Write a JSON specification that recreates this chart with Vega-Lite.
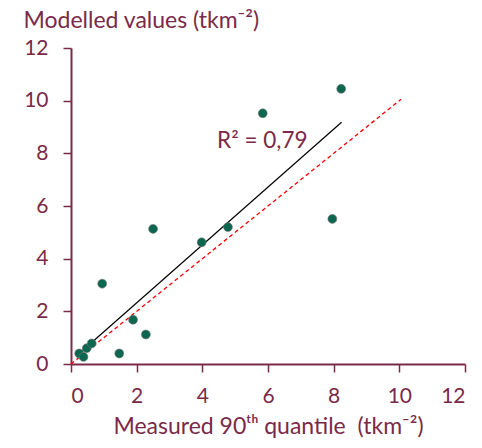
{
  "$schema": "https://vega.github.io/schema/vega-lite/v6.json",
  "width": 394,
  "height": 316,
  "autosize": {"type": "none"},
  "padding": {"left": 71, "top": 48, "right": 17, "bottom": 84},
  "background": "white",
  "config": {
    "view": {"stroke": null},
    "font": "Lato",
    "axis": {
      "grid": false,
      "domainColor": "#7A2A48",
      "domainWidth": 2,
      "tickColor": "#7A2A48",
      "tickSize": 8,
      "tickWidth": 1.5,
      "labelColor": "#7A2A48",
      "labelFont": "Lato",
      "labelFontSize": 21,
      "titleColor": "#7A2A48",
      "titleFont": "Lato",
      "titleFontSize": 23,
      "titleFontWeight": "normal"
    }
  },
  "datasets": {
    "points": [
      {"measured": 8.23, "modelled": 10.45},
      {"measured": 5.84, "modelled": 9.52},
      {"measured": 2.5, "modelled": 5.13},
      {"measured": 3.98, "modelled": 4.62},
      {"measured": 4.78, "modelled": 5.2},
      {"measured": 7.96, "modelled": 5.51},
      {"measured": 0.95, "modelled": 3.05},
      {"measured": 1.89, "modelled": 1.68},
      {"measured": 2.28, "modelled": 1.12},
      {"measured": 1.47, "modelled": 0.4},
      {"measured": 0.25, "modelled": 0.4},
      {"measured": 0.38, "modelled": 0.27},
      {"measured": 0.48, "modelled": 0.6},
      {"measured": 0.63, "modelled": 0.78}
    ],
    "oneToOne": [
      {"measured": 0, "modelled": 0},
      {"measured": 10.05, "modelled": 10.05}
    ],
    "fit": [
      {"measured": 0.25, "modelled": 0.4},
      {"measured": 8.24, "modelled": 9.18}
    ]
  },
  "layer": [
    {
      "data": {"name": "oneToOne"},
      "mark": {"type": "line", "color": "#FF0000", "strokeWidth": 1.3, "strokeDash": [4, 3]},
      "encoding": {
        "x": {
          "field": "measured", "type": "quantitative",
          "scale": {"domain": [0, 12], "nice": false},
          "axis": {"values": [0, 2, 4, 6, 8, 10, 12], "labelPadding": 13, "title": "Measured 90ᵗʰ quantile\u00a0 (tkm⁻²)", "titlePadding": 9}
        },
        "y": {
          "field": "modelled", "type": "quantitative",
          "scale": {"domain": [0, 12], "nice": false},
          "axis": {"values": [0, 2, 4, 6, 8, 10, 12], "labelPadding": 15, "title": "Modelled values (tkm⁻²)", "titleAngle": 0, "titleAlign": "left", "titleBaseline": "alphabetic", "titleX": -48, "titleY": -21}
        }
      }
    },
    {
      "data": {"name": "fit"},
      "mark": {"type": "line", "color": "#000000", "strokeWidth": 1.2},
      "encoding": {
        "x": {"field": "measured", "type": "quantitative"},
        "y": {"field": "modelled", "type": "quantitative"}
      }
    },
    {
      "data": {"name": "points"},
      "mark": {"type": "circle", "size": 80, "color": "#0C6650", "opacity": 1, "stroke": "#7a7a7a", "strokeWidth": 0.6},
      "encoding": {
        "x": {"field": "measured", "type": "quantitative"},
        "y": {"field": "modelled", "type": "quantitative"}
      }
    },
    {
      "data": {"values": [{}]},
      "mark": {"type": "text", "text": "R² = 0,79", "align": "left", "baseline": "middle", "fontSize": 22.5, "font": "Lato", "color": "#7A2A48"},
      "encoding": {
        "x": {"datum": 4.45, "type": "quantitative"},
        "y": {"datum": 8.45, "type": "quantitative"}
      }
    }
  ]
}
